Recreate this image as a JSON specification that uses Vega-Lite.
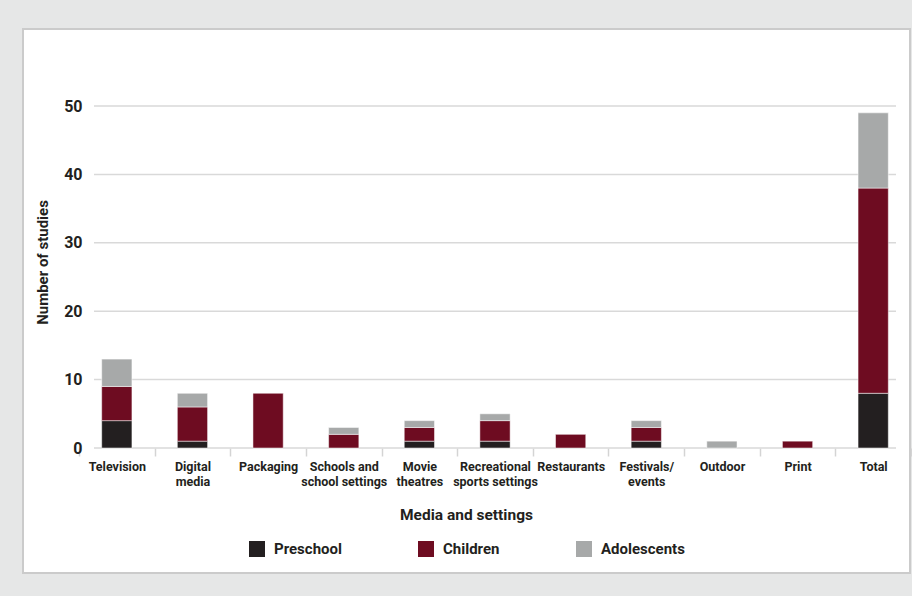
{
  "$schema": "https://vega.github.io/schema/vega-lite/v6.json",
  "width": 887,
  "height": 544,
  "autosize": {"type": "none"},
  "padding": {"left": 23, "top": 29, "right": 2, "bottom": 23},
  "background": "#e6e7e7",
  "config": {
    "view": {"fill": "white", "stroke": "#cbcbcb", "strokeWidth": 2},
    "font": "Roboto",
    "axisY": {
      "tickCount": 5,
      "offset": -71,
      "domain": false,
      "ticks": false,
      "grid": false,
      "labelPadding": 12,
      "labelFontSize": 16,
      "labelFontWeight": "bold",
      "labelColor": "#231f20",
      "titleFontSize": 15,
      "titleFontWeight": "bold",
      "titleColor": "#231f20",
      "titleX": -44,
      "titleY": 233
    }
  },
  "datasets": {
    "grid": [{"v": 0}, {"v": 10}, {"v": 20}, {"v": 30}, {"v": 40}, {"v": 50}],
    "studies": [
      {"setting": "Television", "group": "Preschool", "studies": 4},
      {"setting": "Television", "group": "Children", "studies": 5},
      {"setting": "Television", "group": "Adolescents", "studies": 4},
      {"setting": "Digital media", "group": "Preschool", "studies": 1},
      {"setting": "Digital media", "group": "Children", "studies": 5},
      {"setting": "Digital media", "group": "Adolescents", "studies": 2},
      {"setting": "Packaging", "group": "Children", "studies": 8},
      {"setting": "Schools and school settings", "group": "Children", "studies": 2},
      {"setting": "Schools and school settings", "group": "Adolescents", "studies": 1},
      {"setting": "Movie theatres", "group": "Preschool", "studies": 1},
      {"setting": "Movie theatres", "group": "Children", "studies": 2},
      {"setting": "Movie theatres", "group": "Adolescents", "studies": 1},
      {"setting": "Recreational sports settings", "group": "Preschool", "studies": 1},
      {"setting": "Recreational sports settings", "group": "Children", "studies": 3},
      {"setting": "Recreational sports settings", "group": "Adolescents", "studies": 1},
      {"setting": "Restaurants", "group": "Children", "studies": 2},
      {"setting": "Festivals/events", "group": "Preschool", "studies": 1},
      {"setting": "Festivals/events", "group": "Children", "studies": 2},
      {"setting": "Festivals/events", "group": "Adolescents", "studies": 1},
      {"setting": "Outdoor", "group": "Adolescents", "studies": 1},
      {"setting": "Print", "group": "Children", "studies": 1},
      {"setting": "Total", "group": "Preschool", "studies": 8},
      {"setting": "Total", "group": "Children", "studies": 30},
      {"setting": "Total", "group": "Adolescents", "studies": 11}
    ]
  },
  "resolve": {"scale": {"x": "independent"}, "axis": {"x": "independent"}},
  "layer": [
    {
      "data": {"name": "grid"},
      "mark": {"type": "rule", "color": "#d9d9d9", "strokeWidth": 1.5},
      "encoding": {
        "y": {"field": "v", "type": "quantitative", "title": "Number of studies", "scale": {"domain": [0, 50], "range": [419, 77], "nice": false}},
        "x": {"datum": 0, "type": "quantitative", "scale": {"domain": [0, 1], "range": [71, 873]}, "axis": null},
        "x2": {"datum": 1}
      }
    },
    {
      "data": {"name": "studies"},
      "transform": [
        {"calculate": "indexof(['Preschool','Children','Adolescents'], datum.group)", "as": "stackOrder"}
      ],
      "mark": {"type": "bar", "width": {"band": 0.4}, "stroke": "white", "strokeWidth": 0.5},
      "encoding": {
        "x": {
          "field": "setting",
          "type": "nominal",
          "sort": ["Television", "Digital media", "Packaging", "Schools and school settings", "Movie theatres", "Recreational sports settings", "Restaurants", "Festivals/events", "Outdoor", "Print", "Total"],
          "scale": {"range": [56, 888], "paddingInner": 0, "paddingOuter": 0},
          "axis": {
            "title": "Media and settings",
            "offset": -125,
            "domain": false,
            "grid": false,
            "ticks": true,
            "tickBand": "extent",
            "tickSize": 8,
            "tickColor": "#d4d4d4",
            "tickWidth": 1.5,
            "labelAngle": 0,
            "labelPadding": 4,
            "labelFontSize": 12.5,
            "labelFontWeight": "bold",
            "labelColor": "#231f20",
            "labelLineHeight": 15,
            "labelExpr": "datum.label == 'Digital media' ? ['Digital', 'media'] : datum.label == 'Schools and school settings' ? ['Schools and', 'school settings'] : datum.label == 'Movie theatres' ? ['Movie', 'theatres'] : datum.label == 'Recreational sports settings' ? ['Recreational', 'sports settings'] : datum.label == 'Festivals/events' ? ['Festivals/', 'events'] : datum.label",
            "titleFontSize": 15.5,
            "titleFontWeight": "bold",
            "titleColor": "#231f20",
            "titleX": 443,
            "titleY": 59,
            "titleBaseline": "top"
          }
        },
        "y": {
          "field": "studies",
          "type": "quantitative",
          "stack": "zero",
          "title": "Number of studies",
          "scale": {"domain": [0, 50], "range": [419, 77], "nice": false}
        },
        "color": {
          "field": "group",
          "type": "nominal",
          "sort": ["Preschool", "Children", "Adolescents"],
          "scale": {"domain": ["Preschool", "Children", "Adolescents"], "range": ["#231f20", "#6e0c21", "#a7a9a9"]},
          "legend": {
            "title": null,
            "orient": "none",
            "legendX": 226,
            "legendY": 512,
            "direction": "horizontal",
            "symbolType": "square",
            "symbolSize": 256,
            "symbolStrokeWidth": 0,
            "symbolOpacity": 1,
            "labelFontSize": 15,
            "labelFontWeight": "bold",
            "labelColor": "#231f20",
            "labelOffset": 9,
            "columnPadding": 76,
            "padding": 0
          }
        },
        "order": {"field": "stackOrder", "type": "quantitative"}
      }
    }
  ]
}
